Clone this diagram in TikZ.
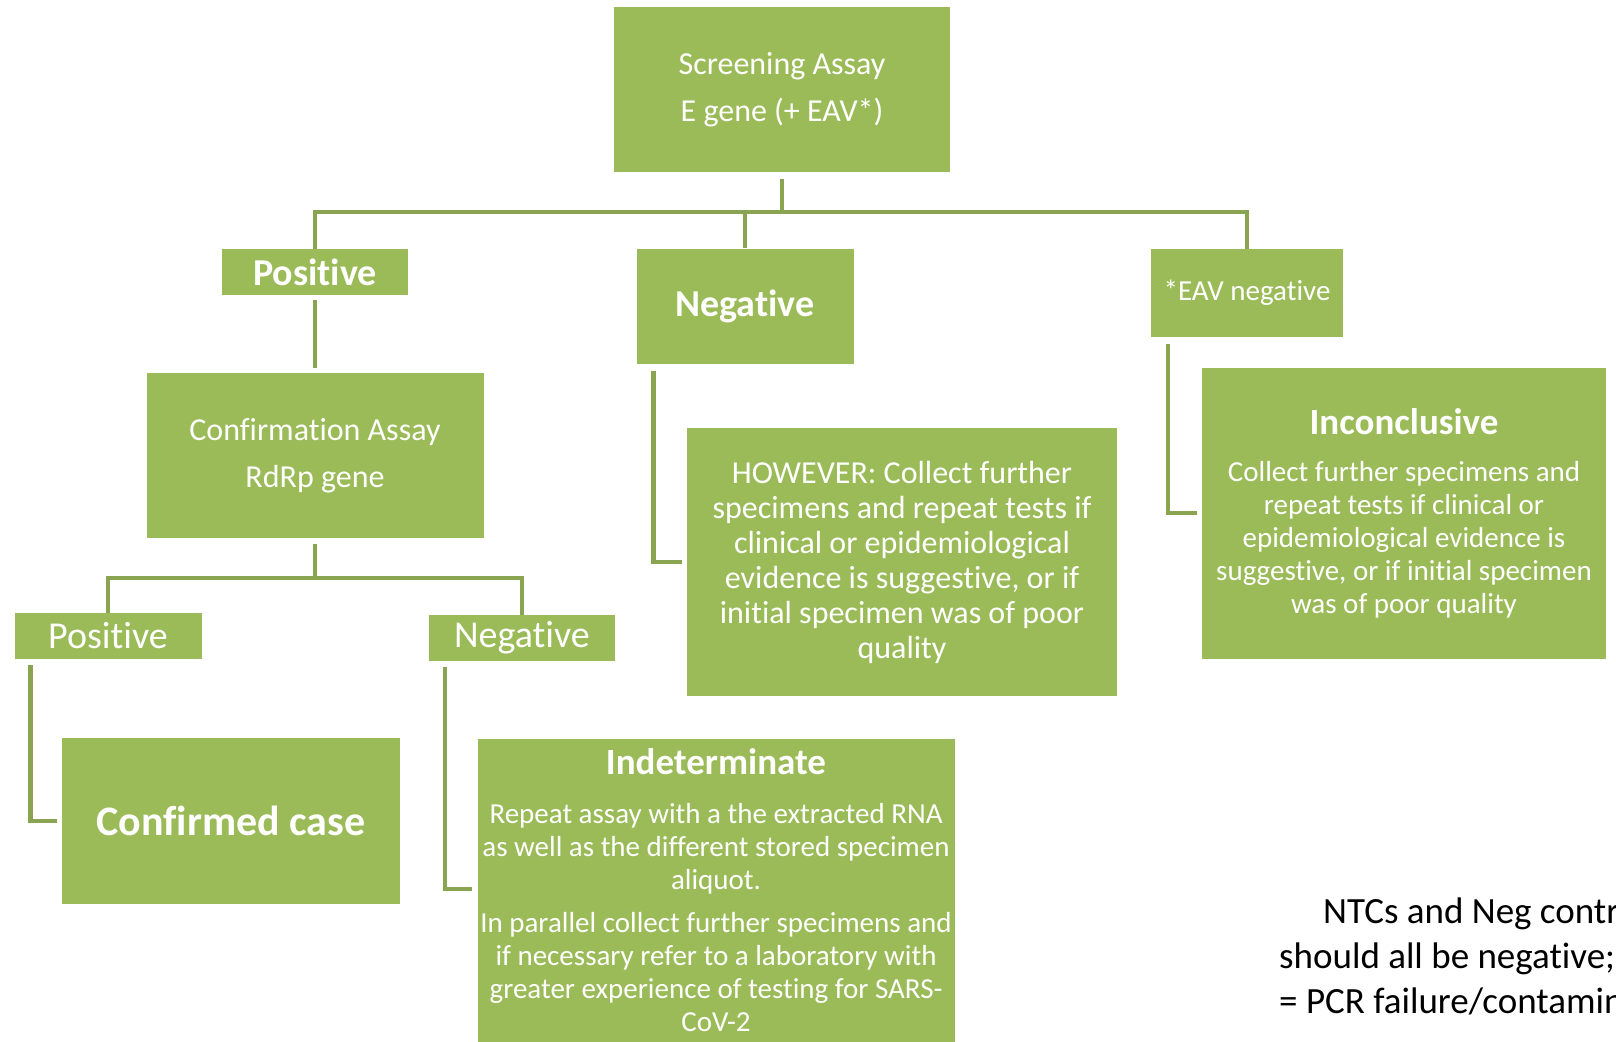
\documentclass[tikz,border=0pt]{standalone}
\usepackage{fontspec}
\setmainfont{Carlito}[RawFeature={-liga;-clig;-dlig;-calt}]
\usetikzlibrary{positioning,calc}
\definecolor{boxgreen}{RGB}{155,187,89}
\definecolor{linegreen}{RGB}{138,164,82}
\tikzset{
  gbox/.style={rectangle, fill=boxgreen, text=white, align=center, inner sep=0pt},
  tree/.style={draw=linegreen, line width=4.5pt, line join=miter},
  big/.style={font=\fontsize{38}{44}\selectfont},
  bigbold/.style={font=\fontsize{38}{44}\selectfont\bfseries},
  assay/.style={font=\fontsize{32}{47}\selectfont},
  note/.style={align=left, inner sep=0pt, font=\fontsize{37}{45}\selectfont}
}

\begin{document}
\begin{tikzpicture}[x=1pt, y=-1pt]
  \useasboundingbox (0,0) rectangle (1616,1041);

  % top level
  \node[gbox, assay, minimum width=336pt, minimum height=165pt] (scr) at (782,89.5) {Screening Assay\\E gene (+ EAV*)};
  \node[gbox, bigbold, minimum width=186pt, minimum height=46pt] (pos1) at (315,272) {Positive};
  \node[gbox, bigbold, minimum width=217pt, minimum height=115pt] (neg1) at (745,306) {\raisebox{-2pt}{Negative}};
  \node[gbox, font=\fontsize{29}{34}\selectfont, minimum width=192pt, minimum height=88pt] (eav) at (1247,293) {*EAV negative};

  % second level
  \node[gbox, assay, minimum width=337pt, minimum height=165pt] (conf) at (315,455.5) {Confirmation Assay\\RdRp gene};
  \node[gbox, font=\fontsize{32}{35}\selectfont, minimum width=430pt, minimum height=268pt] (how) at (902,562)
    {HOWEVER: Collect further\\specimens and repeat tests if\\clinical or epidemiological\\evidence is suggestive, or if\\initial specimen was of poor\\quality};
  \node[gbox, font=\fontsize{29}{33}\selectfont, minimum width=404pt, minimum height=291pt] (inc) at (1404,513)
    {{\fontsize{37}{44}\selectfont\bfseries Inconclusive}\\[14pt]Collect further specimens and\\repeat tests if clinical or\\epidemiological evidence is\\suggestive, or if initial specimen\\was of poor quality};

  % third level
  \node[gbox, big, minimum width=187pt, minimum height=46pt] (pos2) at (108,636) {Positive};
  \node[gbox, big, minimum width=186pt, minimum height=46pt] (neg2) at (522,638) {Negative};
  \node[gbox, font=\fontsize{42}{48}\selectfont\bfseries, minimum width=338pt, minimum height=166pt] (conf2) at (231,821) {Confirmed case};
  \node[gbox, minimum width=477pt, minimum height=312pt] (ind) at (716,895) {};
  \node[text=white, align=center, inner sep=0pt, anchor=north, font=\fontsize{29}{33}\selectfont] (indtext) at ([yshift=-10pt]ind.north)
    {{\fontsize{37}{44}\selectfont\bfseries Indeterminate}\\[16pt]Repeat assay with a the extracted RNA\\as well as the different stored specimen\\aliquot.\\[10pt]In parallel collect further specimens and\\if necessary refer to a laboratory with\\greater experience of testing for SARS-\\CoV-2};

  % side note
  \node[note, anchor=north west] (note) at (1279,898) {\hspace*{44pt}NTCs and Neg contr\\should all be negative;\\= PCR failure/contamin};

  % connectors
  \draw[tree] ([yshift=-7pt]scr.south) -- ++(0,33) coordinate (j1);
  \draw[tree] (pos1.north) -- (pos1.north |- j1) -- (eav.north |- j1) -- (eav.north);
  \draw[tree] (neg1.north |- j1) -- (neg1.north);
  \draw[tree] ([yshift=-5pt]pos1.south) -- ([yshift=5pt]conf.north);
  \draw[tree] ([yshift=-6pt]conf.south) -- ++(0,34) coordinate (j2);
  \draw[tree] (pos2.north) -- (pos2.north |- j2) -- (neg2.north |- j2) -- (neg2.north);
  \draw[tree] ([xshift=17pt,yshift=-7pt]neg1.south west) |- ([xshift=-5pt]how.west);
  \draw[tree] ([xshift=17pt,yshift=-7pt]eav.south west) |- ([xshift=-5pt]inc.west);
  \draw[tree] ([xshift=16pt,yshift=-6pt]pos2.south west) |- ([xshift=-5pt]conf2.west);
  \draw[tree] ([xshift=16pt,yshift=-6pt]neg2.south west) |- ([xshift=-5pt,yshift=-150pt]ind.north west);
\end{tikzpicture}
\end{document}
